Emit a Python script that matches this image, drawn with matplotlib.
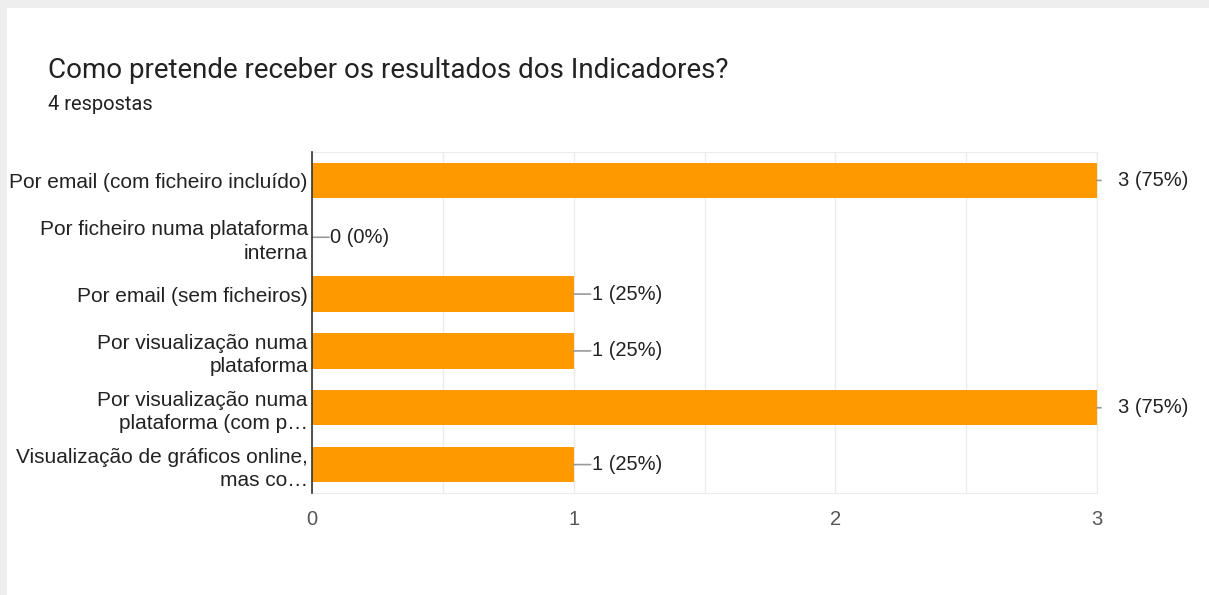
import matplotlib.pyplot as plt
from matplotlib.patches import Rectangle

# Dados (resposta do formulário)
opcoes = [
    "Por email (com ficheiro incluído)",
    "Por ficheiro numa plataforma\ninterna",
    "Por email (sem ficheiros)",
    "Por visualização numa\nplataforma",
    "Por visualização numa\nplataforma (com p…",
    "Visualização de gráficos online,\nmas co…",
]
respostas = [3, 0, 1, 1, 3, 1]
total = 4
titulo = "Como pretende receber os resultados dos Indicadores?"
subtitulo = f"{total} respostas"

LARANJA = "#ff9900"
TEXTO = "#222222"
CINZA_TXT = "#555555"
GRELHA = "#ebebeb"

plt.rcParams["font.family"] = ["Liberation Sans", "DejaVu Sans"]

fig = plt.figure(figsize=(12.09, 5.95), dpi=100)
fig.patch.set_facecolor("white")
# moldura cinzenta do ecrã (topo e esquerda)
fig.add_artist(Rectangle((0, 1 - 8 / 595), 1, 8 / 595, transform=fig.transFigure,
                         color="#eeeeee", lw=0))
fig.add_artist(Rectangle((0, 0), 7 / 1209, 1, transform=fig.transFigure,
                         color="#eeeeee", lw=0))

ax = fig.add_axes([312 / 1209, 102 / 595, 785 / 1209, 341 / 595])
y = list(range(len(opcoes)))
ax.barh(y, respostas, height=0.62, color=LARANJA, zorder=3)
ax.set_xlim(0, 3)
ax.set_ylim(len(opcoes) - 0.5, -0.5)
ax.set_yticks(y)
ax.set_yticklabels(opcoes, fontsize=15, color=TEXTO, linespacing=1.3)
ax.set_xticks([0, 1, 2, 3])
ax.set_xticklabels(["0", "1", "2", "3"], fontsize=14.5, color=CINZA_TXT)
ax.set_xticks([0.5, 1.5, 2.5], minor=True)
ax.tick_params(axis="both", which="both", length=0)
ax.tick_params(axis="x", pad=12)
ax.tick_params(axis="y", pad=3)
ax.grid(axis="x", which="both", color=GRELHA, lw=1, zorder=0)
for lado in ("top", "right", "bottom"):
    ax.spines[lado].set_color(GRELHA)
ax.spines["left"].set_color("#333333")
ax.spines["left"].set_linewidth(1.2)
ax.spines["left"].set_zorder(4)

for yi, v in zip(y, respostas):
    pct = round(100 * v / total)
    comp = 4 if v >= 3 else 17
    desloc = 21 if v >= 3 else 18
    ax.annotate("", xy=(v, yi), xytext=(comp, 0), textcoords="offset pixels",
                arrowprops=dict(arrowstyle="-", color="#999999", lw=1.2,
                                shrinkA=0, shrinkB=0), annotation_clip=False)
    ax.annotate(f"{v} ({pct}%)", xy=(v, yi), xytext=(desloc, 0),
                textcoords="offset pixels", va="center", ha="left",
                fontsize=14.5, color=TEXTO, annotation_clip=False)

fig.text(48 / 1209, 1 - 70 / 595, titulo, fontsize=20, color=TEXTO,
         family=["Roboto", "DejaVu Sans"], va="center")
fig.text(48 / 1209, 1 - 104 / 595, subtitulo, fontsize=14.5, color=TEXTO,
         family=["Roboto", "DejaVu Sans"], va="center")

fig.savefig("out.png", dpi=100)
